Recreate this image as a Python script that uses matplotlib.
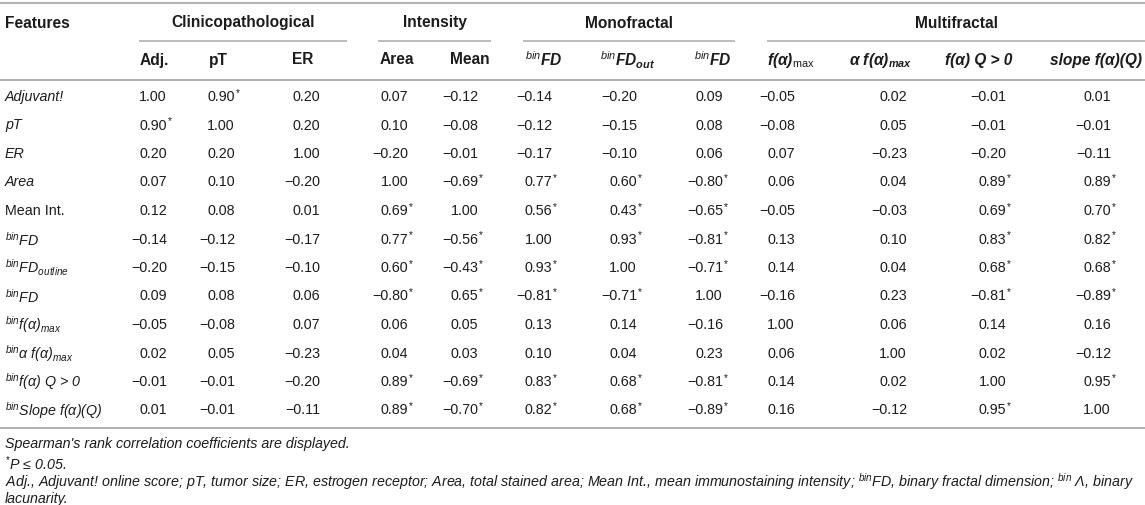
import matplotlib
matplotlib.use('Agg')
import matplotlib.pyplot as plt

plt.rcParams['font.family'] = ['Liberation Sans', 'DejaVu Sans']
plt.rcParams['mathtext.fontset'] = 'custom'
plt.rcParams['mathtext.rm'] = 'Liberation Sans'
plt.rcParams['mathtext.it'] = 'Liberation Sans:italic'
plt.rcParams['mathtext.bf'] = 'Liberation Sans:bold'
plt.rcParams['mathtext.bfit'] = 'Liberation Sans:bold:italic'

# table content
groups = ['Clinicopathological', 'Intensity', 'Monofractal', 'Multifractal']

col_labels = ['Adj.', 'pT', 'ER', 'Area', 'Mean',
              r'$^{\mathit{bin}}$FD',
              r'$^{\mathit{bin}}$FD$_{\mathbfit{out}}$',
              r'$^{\mathit{bin}}$FD',
              r'f(α)$_{\mathrm{max}}$',
              r'α f(α)$_{\mathbfit{max}}$',
              'f(α) Q > 0',
              'slope f(α)(Q)']
# which header cells are bold italic
col_italic = [False] * 5 + [True] * 7

row_labels = ['Adjuvant!', 'pT', 'ER', 'Area', 'Mean Int.',
              r'$^{\mathit{bin}}$FD',
              r'$^{\mathit{bin}}$FD$_{\mathit{outline}}$',
              r'$^{\mathit{bin}}$FD',
              r'$^{\mathit{bin}}$f(α)$_{\mathit{max}}$',
              r'$^{\mathit{bin}}$α f(α)$_{\mathit{max}}$',
              r'$^{\mathit{bin}}$f(α) Q > 0',
              r'$^{\mathit{bin}}$Slope f(α)(Q)']
row_italic = [True, True, True, True, False, True, True, True, True, True, True, True]

values = [
    [1.00, 0.90, 0.20, 0.07, -0.12, -0.14, -0.20, 0.09, -0.05, 0.02, -0.01, 0.01],
    [0.90, 1.00, 0.20, 0.10, -0.08, -0.12, -0.15, 0.08, -0.08, 0.05, -0.01, -0.01],
    [0.20, 0.20, 1.00, -0.20, -0.01, -0.17, -0.10, 0.06, 0.07, -0.23, -0.20, -0.11],
    [0.07, 0.10, -0.20, 1.00, -0.69, 0.77, 0.60, -0.80, 0.06, 0.04, 0.89, 0.89],
    [0.12, 0.08, 0.01, 0.69, 1.00, 0.56, 0.43, -0.65, -0.05, -0.03, 0.69, 0.70],
    [-0.14, -0.12, -0.17, 0.77, -0.56, 1.00, 0.93, -0.81, 0.13, 0.10, 0.83, 0.82],
    [-0.20, -0.15, -0.10, 0.60, -0.43, 0.93, 1.00, -0.71, 0.14, 0.04, 0.68, 0.68],
    [0.09, 0.08, 0.06, -0.80, 0.65, -0.81, -0.71, 1.00, -0.16, 0.23, -0.81, -0.89],
    [-0.05, -0.08, 0.07, 0.06, 0.05, 0.13, 0.14, -0.16, 1.00, 0.06, 0.14, 0.16],
    [0.02, 0.05, -0.23, 0.04, 0.03, 0.10, 0.04, 0.23, 0.06, 1.00, 0.02, -0.12],
    [-0.01, -0.01, -0.20, 0.89, -0.69, 0.83, 0.68, -0.81, 0.14, 0.02, 1.00, 0.95],
    [0.01, -0.01, -0.11, 0.89, -0.70, 0.82, 0.68, -0.89, 0.16, -0.12, 0.95, 1.00],
]

# significant at P <= 0.05 (marked with *)
signif = [
    [0, 1, 0, 0, 0, 0, 0, 0, 0, 0, 0, 0],
    [1, 0, 0, 0, 0, 0, 0, 0, 0, 0, 0, 0],
    [0, 0, 0, 0, 0, 0, 0, 0, 0, 0, 0, 0],
    [0, 0, 0, 0, 1, 1, 1, 1, 0, 0, 1, 1],
    [0, 0, 0, 1, 0, 1, 1, 1, 0, 0, 1, 1],
    [0, 0, 0, 1, 1, 0, 1, 1, 0, 0, 1, 1],
    [0, 0, 0, 1, 1, 1, 0, 1, 0, 0, 1, 1],
    [0, 0, 0, 1, 1, 1, 1, 0, 0, 0, 1, 1],
    [0, 0, 0, 0, 0, 0, 0, 0, 0, 0, 0, 0],
    [0, 0, 0, 0, 0, 0, 0, 0, 0, 0, 0, 0],
    [0, 0, 0, 1, 1, 1, 1, 1, 0, 0, 0, 1],
    [0, 0, 0, 1, 1, 1, 1, 1, 0, 0, 1, 0],
]

footnotes = [
    "Spearman's rank correlation coefficients are displayed.",
    r"$^{*}$P ≤ 0.05.",
    r"Adj., Adjuvant! online score; pT, tumor size; ER, estrogen receptor; Area, total stained area; "
    r"Mean Int., mean immunostaining intensity; $^{\mathit{bin}}$FD, binary fractal dimension; "
    r"$^{\mathit{bin}}$ Λ, binary",
    "lacunarity.",
]

# layout (pixels)
W, H = 1145, 505
col_center = [154, 218, 303, 397, 470, 544, 628, 713, 791, 881, 979, 1096]
col_right = [167, 235, 320, 408, 478, 552, 637, 723, 795, 907, 1006, 1111]
group_line = [(139, 347), (378, 491), (523, 735), (767, 1145)]
row_y0, row_dy = 97, 28.5
fs = 10.3
fs_head = 11.2
txt = '#1c1c1c'
line_c = '#b0b0b0'

fig = plt.figure(figsize=(W / 100, H / 100), dpi=100)
ax = fig.add_axes([0, 0, 1, 1])
ax.set_xlim(0, W)
ax.set_ylim(H, 0)
ax.axis('off')

# rules
for y in [3, 80, 428]:
    ax.plot([0, W], [y, y], color=line_c, lw=1.4, solid_capstyle='butt')
for (x0, x1) in group_line:
    ax.plot([x0, x1], [41, 41], color=line_c, lw=1.2, solid_capstyle='butt')

# header
ax.text(5, 23, 'Features', fontsize=fs_head, fontweight='bold', color=txt, va='center')
for g, (x0, x1) in zip(groups, group_line):
    ax.text((x0 + x1) / 2, 23, g, fontsize=fs_head, fontweight='bold', color=txt,
            va='center', ha='center')
for lab, xc, it in zip(col_labels, col_center, col_italic):
    ax.text(xc, 60, lab, fontsize=fs_head, fontweight='bold', color=txt,
            va='center', ha='center', style='italic' if it else 'normal')

# body
for i, lab in enumerate(row_labels):
    y = row_y0 + i * row_dy
    ax.text(5, y, lab, fontsize=fs, color=txt, va='center',
            style='italic' if row_italic[i] else 'normal')
    for j, v in enumerate(values[i]):
        s = f'{v:.2f}'.replace('-', '\u2212')
        ax.text(col_right[j], y, s, fontsize=fs, color=txt, va='center', ha='right')
        if signif[i][j]:
            ax.text(col_right[j] + 0.5, y - 4, '*', fontsize=fs * 0.7, color=txt,
                    va='center', ha='left')

# footnotes
for note, y in zip(footnotes, [444, 464, 482, 499]):
    ax.text(5, y, note, fontsize=fs, color=txt, va='center', style='italic')

fig.savefig('out.png', dpi=100, facecolor='white')
